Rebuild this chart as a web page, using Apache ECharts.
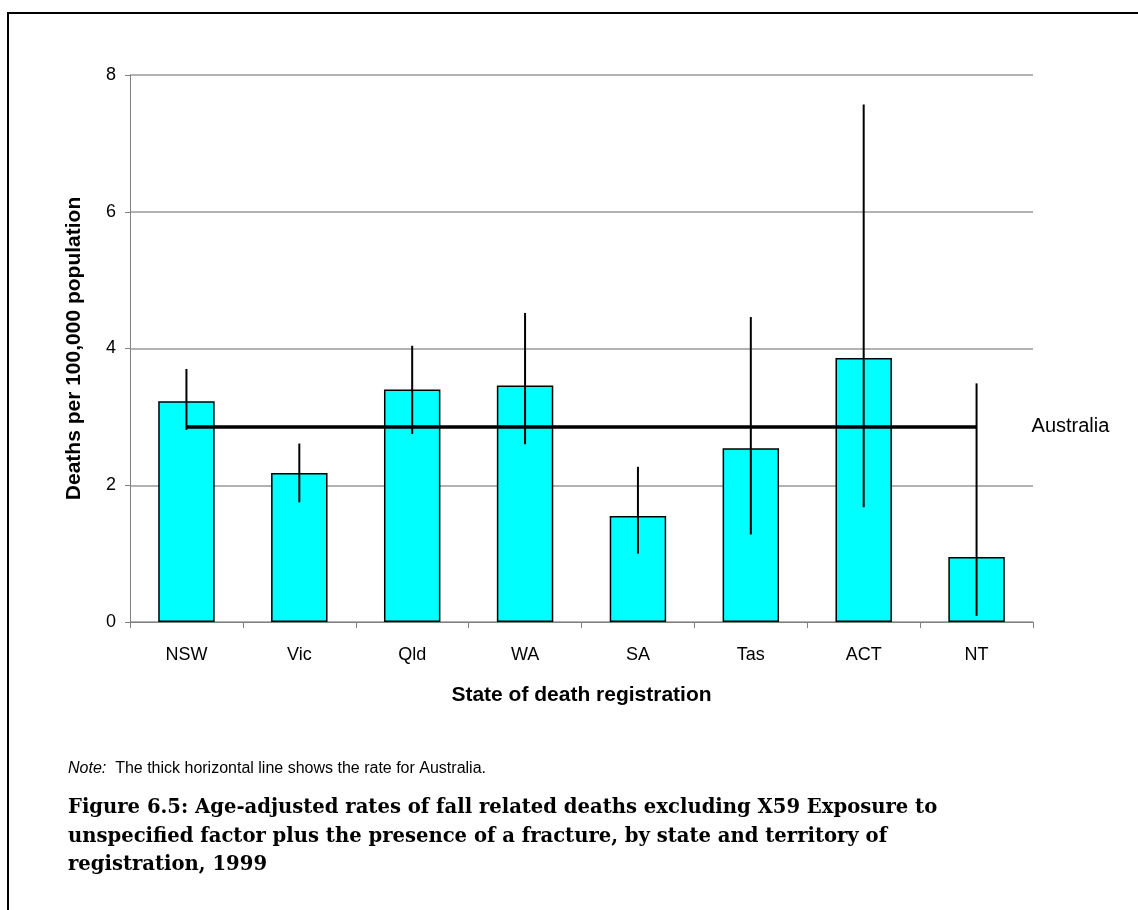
<!DOCTYPE html>
<html>
<head>
<meta charset="utf-8">
<script src="https://cdn.jsdelivr.net/npm/echarts@6/dist/echarts.min.js"></script>
<style>html,body{margin:0;padding:0;background:#fff;}#c{width:1138px;height:910px;}</style>
</head>
<body>
<div id="c"></div>
<script>
const categories = ['NSW', 'Vic', 'Qld', 'WA', 'SA', 'Tas', 'ACT', 'NT'];
const rates = [3.23, 2.18, 3.40, 3.46, 1.55, 2.54, 3.86, 0.95];
const lowerCI = [2.81, 1.75, 2.75, 2.60, 1.00, 1.28, 1.68, 0.09];
const upperCI = [3.70, 2.61, 4.04, 4.52, 2.27, 4.46, 7.57, 3.49];
const australiaRate = 2.86;
const yTicks = [0, 2, 4, 6, 8];

const chart = echarts.init(document.getElementById('c'), null, {renderer: 'canvas'});
const errData = categories.map((c, i) => [i, lowerCI[i], upperCI[i]]);

chart.setOption({
  animation: false,
  backgroundColor: '#fff',
  grid: {left: 130, right: 105, top: 75, bottom: 288, containLabel: false},
  xAxis: {
    type: 'category',
    data: categories,
    name: 'State of death registration',
    nameLocation: 'middle',
    nameGap: 63,
    nameTextStyle: {fontFamily: 'Liberation Sans', fontWeight: 'bold', fontSize: 21, color: '#000'},
    axisLine: {lineStyle: {color: '#808080', width: 1}},
    axisTick: {show: true, alignWithLabel: false, length: 6, lineStyle: {color: '#808080'}},
    axisLabel: {fontFamily: 'Liberation Sans', fontSize: 18, color: '#000', margin: 24}
  },
  yAxis: {
    type: 'value',
    min: 0, max: 8, interval: 2,
    name: 'Deaths per 100,000 population',
    nameLocation: 'middle',
    nameGap: 45,
    nameRotate: 90,
    nameTextStyle: {fontFamily: 'Liberation Sans', fontWeight: 'bold', fontSize: 21, color: '#000'},
    axisLine: {show: true, lineStyle: {color: '#808080', width: 1}},
    axisTick: {show: true, length: 5, lineStyle: {color: '#808080'}},
    axisLabel: {fontFamily: 'Liberation Sans', fontSize: 18, color: '#000', margin: 14,
      formatter: v => yTicks.includes(v) ? String(v) : ''},
    splitLine: {show: true, lineStyle: {color: '#999', width: 1.5}}
  },
  series: [
    {
      type: 'bar',
      data: rates,
      barWidth: '50%',
      itemStyle: {color: '#00FFFF', borderColor: '#000', borderWidth: 1.5},
      markLine: {
        silent: true,
        symbol: ['none', 'none'],
        lineStyle: {color: '#000', width: 3.5, type: 'solid'},
        label: {show: true, position: 'end', formatter: 'Australia', distance: 55,
          fontFamily: 'Liberation Sans', fontSize: 20, color: '#000'},
        data: [[{coord: [categories[0], australiaRate]}, {coord: [categories[categories.length - 1], australiaRate]}]]
      },
      z: 2
    },
    {
      type: 'custom',
      data: errData,
      z: 5,
      renderItem: function (params, api) {
        const x = api.value(0);
        const lo = api.coord([x, api.value(1)]);
        const hi = api.coord([x, api.value(2)]);
        return {
          type: 'line',
          shape: {x1: lo[0], y1: lo[1], x2: hi[0], y2: hi[1]},
          style: {stroke: '#000', lineWidth: 2}
        };
      }
    }
  ],
  graphic: [
    {type: 'rect', shape: {x: 8, y: 13, width: 1160, height: 930}, style: {fill: 'none', stroke: '#000', lineWidth: 2}, z: 100},
    {type: 'text', left: 68, top: 761, style: {
      text: '{i|Note:}  The thick horizontal line shows the rate for Australia.',
      rich: {i: {fontStyle: 'italic', fontFamily: 'Liberation Sans', fontSize: 16, fill: '#000'}},
      fontFamily: 'Liberation Sans', fontSize: 16, fill: '#000'}},
    {type: 'text', left: 68, top: 794, style: {
      text: 'Figure 6.5: Age-adjusted rates of fall related deaths excluding X59 Exposure to\nunspecified factor plus the presence of a fracture, by state and territory of\nregistration, 1999',
      fontFamily: 'DejaVu Serif', fontWeight: 'bold', fontSize: 19.6, lineHeight: 28.5, fill: '#000'}}
  ]
});
</script>
</body>
</html>
